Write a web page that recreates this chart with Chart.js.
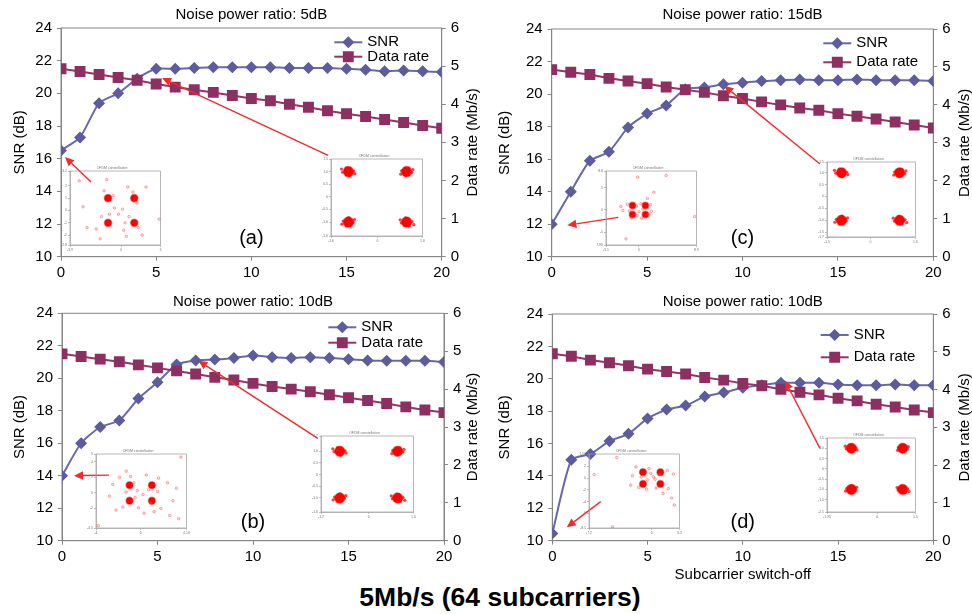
<!DOCTYPE html>
<html>
<head>
<meta charset="utf-8">
<script src="https://cdn.jsdelivr.net/npm/chart.js@4.4.1/dist/chart.umd.min.js"></script>
<style>
  html, body { margin: 0; padding: 0; background: #fff; }
  #fig { position: relative; width: 972px; height: 614px; overflow: hidden; background: #fff; }
  #fig canvas { position: absolute; }
  #caption {
    position: absolute; left: 0; width: 1000px; top: 582px;
    text-align: center; font: bold 26.5px/30px "Liberation Sans", Arial, sans-serif; color: #000;
  }
</style>
</head>
<body>
<div id="fig">
  <div id="caption">5Mb/s (64 subcarriers)</div>
</div>
<script>
  // number of switched-off subcarriers (x axis)
  const switchedOff = [0, 1, 2, 3, 4, 5, 6, 7, 8, 9, 10, 11, 12, 13, 14, 15, 16, 17, 18, 19, 20]

  // (a) noise power ratio 5dB
  const snrA = [16.5, 17.3, 19.4, 20.0, 20.9, 21.5, 21.5, 21.55, 21.6, 21.6, 21.6, 21.6, 21.55, 21.55, 21.55, 21.5, 21.45, 21.35, 21.4, 21.35, 21.3]
  const rateA = [4.93, 4.86, 4.78, 4.70, 4.63, 4.53, 4.45, 4.38, 4.31, 4.23, 4.15, 4.09, 4.00, 3.92, 3.83, 3.75, 3.68, 3.60, 3.52, 3.44, 3.37]
  // (b) noise power ratio 10dB
  const snrB = [14.0, 16.0, 17.0, 17.4, 18.75, 19.75, 20.85, 21.1, 21.15, 21.25, 21.4, 21.3, 21.25, 21.3, 21.25, 21.17, 21.1, 21.08, 21.08, 21.08, 21.0]
  const rateB = [4.93, 4.86, 4.79, 4.72, 4.64, 4.56, 4.48, 4.40, 4.31, 4.24, 4.15, 4.07, 4.00, 3.93, 3.85, 3.77, 3.70, 3.62, 3.53, 3.45, 3.38]
  // (c) noise power ratio 15dB
  const snrC = [12.0, 14.0, 15.9, 16.45, 17.95, 18.8, 19.3, 20.3, 20.4, 20.6, 20.7, 20.8, 20.85, 20.9, 20.85, 20.85, 20.9, 20.85, 20.85, 20.85, 20.8]
  const rateC = [4.93, 4.86, 4.80, 4.70, 4.63, 4.56, 4.47, 4.40, 4.33, 4.24, 4.17, 4.08, 4.00, 3.92, 3.86, 3.77, 3.70, 3.63, 3.55, 3.47, 3.39]
  // (d) noise power ratio 10dB
  const snrD = [10.45, 15.0, 15.35, 16.15, 16.6, 17.55, 18.1, 18.35, 18.9, 19.15, 19.45, 19.6, 19.75, 19.75, 19.75, 19.65, 19.6, 19.6, 19.65, 19.6, 19.6]
  const rateD = [4.95, 4.88, 4.78, 4.71, 4.63, 4.54, 4.48, 4.41, 4.32, 4.25, 4.16, 4.10, 4.01, 3.93, 3.86, 3.77, 3.70, 3.61, 3.54, 3.46, 3.39]

  // constellation insets (I/Q)
  const qpskPoints = [[-1, 1], [1, 1], [-1, -1], [1, -1]]
  const outliersA = [[-3.2, 2.4], [-2.9, 0.3], [-1.1, 2.5], [-1.3, 1.6], [0.5, 1.9], [0.9, 1.5], [1.9, 1.9], [-0.5, 0.2], [0.1, 0.1], [-0.2, -0.3], [0.6, -0.5], [-2.6, -1.4], [-1.9, -1.5], [-1.6, -2.3], [0.2, -1.6], [0.4, -2.1], [1.3, -1.4], [1.6, -2.0], [2.9, -0.7], [-0.9, -0.3], [1.2, 0.6], [-0.6, 1.2], [0.3, -1.0], [-1.5, -0.5]]
  const outliersB = [[-3.8, -4.2], [-2.5, 1.1], [-1.9, 2.0], [-1.3, 2.8], [-0.9, 2.1], [0.5, 2.3], [1.6, 1.9], [2.4, 1.3], [3.6, 4.6], [3.2, 0.6], [-0.3, 0.3], [0.2, -0.2], [-0.5, -0.6], [0.7, 0.4], [-1.6, -1.8], [-2.2, -2.2], [-0.2, -1.9], [0.3, -2.6], [1.2, -2.4], [1.8, -2.0], [2.6, -2.9], [3.4, -3.3], [-1.3, 0.1], [1.5, 0.2], [-0.6, 1.3], [0.9, -1.3], [-2.8, -0.4], [2.9, -1.0]]
  const outliersC = [[-0.2, 7.4], [4.2, 7.8], [2.3, 4.0], [1.3, 2.6], [-1.8, 1.3], [-0.4, 0.9], [0.3, 1.4], [1.8, 1.2], [-1.5, -0.2], [0.0, -0.4], [0.6, 0.2], [1.9, -0.3], [-2.5, -0.1], [-1.2, -1.8], [0.4, -1.8], [-0.3, -1.2], [8.6, -1.5], [-2.0, -6.5], [-2.8, 0.8], [1.5, -1.0]]
  const outliersD = [[-4.0, 3.5], [-6.6, 0.6], [-1.8, 1.9], [-2.2, 0.4], [-0.3, 1.6], [0.2, 0.2], [-0.5, -0.3], [0.4, -0.2], [1.8, 1.3], [2.5, 0.7], [-1.5, -1.6], [-0.6, -1.9], [0.5, -1.7], [1.3, -2.6], [2.3, -3.4], [2.6, -4.6], [-2.4, -1.2], [1.9, -1.8], [-4.5, -8.3], [-0.1, 0.8], [-1.2, 0.2], [0.9, 0.6]]
  const spreadRight = [
    [1.1, 1.06], [0.9, 0.94], [1.06, 0.88], [0.93, 1.1], [1.18, 0.97], [0.83, 1.03], [1.08, 1.14], [0.98, 0.84], [1.22, 1.08], [0.8, 0.9],
    [-1.1, 1.04], [-0.9, 0.95], [-1.05, 0.86], [-0.94, 1.12], [-1.2, 0.98], [-0.82, 1.02], [-1.08, 1.15], [-0.97, 0.83], [-1.24, 1.1], [-0.78, 0.92],
    [-1.12, -1.05], [-0.88, -0.95], [-1.04, -0.86], [-0.95, -1.13], [-1.18, -0.96], [-0.84, -1.02], [-1.07, -1.16], [-0.99, -0.82], [-1.23, -1.08], [-0.79, -0.9],
    [1.12, -1.04], [0.89, -0.96], [1.05, -0.87], [0.94, -1.12], [1.19, -0.98], [0.82, -1.03], [1.09, -1.15], [0.97, -0.83], [1.25, -1.1], [0.78, -0.91]
  ]

  const FONT = '"Liberation Sans", Arial, sans-serif'
  const SNR_LINE = '#6868AC'
  const SNR_MARK = '#5C5C9E'
  const RATE_LINE = '#993366'
  const RATE_MARK = '#8E2F62'
  const AXIS = '#868686'
  const ARROW = '#F22A2A'

  Chart.defaults.font.family = FONT
  Chart.defaults.color = '#000'

  const fig = document.getElementById('fig')

  function addCanvas (left, top, w, h) {
    const c = document.createElement('canvas')
    c.width = w
    c.height = h
    c.style.left = left + 'px'
    c.style.top = top + 'px'
    c.style.width = w + 'px'
    c.style.height = h + 'px'
    fig.appendChild(c)
    return c
  }

  const pts = (xs, ys) => xs.map((x, i) => ({ x, y: ys[i] }))

  // frame, arrows, right axis title, in-plot legend and panel tag
  function decorations (p) {
    return {
      id: 'deco',
      beforeDatasetsDraw (chart) {
        const { ctx, chartArea: a } = chart
        ctx.save()
        ctx.strokeStyle = AXIS
        ctx.lineWidth = 1
        ctx.strokeRect(a.left, a.top, a.right - a.left, a.bottom - a.top)
        ctx.restore()
      },
      afterDatasetsDraw (chart) {
        const { ctx, chartArea: a } = chart
        const xs = chart.scales.x
        const ys = chart.scales.y
        ctx.save()
        // arrows
        ctx.strokeStyle = ARROW
        ctx.fillStyle = ARROW
        ctx.lineWidth = 1.4
        p.arrows.forEach(ar => {
          const x0 = xs.getPixelForValue(ar.from[0])
          const y0 = ys.getPixelForValue(ar.from[1])
          const x1 = xs.getPixelForValue(ar.to[0])
          const y1 = ys.getPixelForValue(ar.to[1])
          const ang = Math.atan2(y1 - y0, x1 - x0)
          const hl = 9
          const hw = 4.2
          const bx = x1 - hl * Math.cos(ang)
          const by = y1 - hl * Math.sin(ang)
          ctx.beginPath()
          ctx.moveTo(x0, y0)
          ctx.lineTo(bx, by)
          ctx.stroke()
          ctx.beginPath()
          ctx.moveTo(x1, y1)
          ctx.lineTo(bx - hw * Math.sin(ang), by + hw * Math.cos(ang))
          ctx.lineTo(bx + hw * Math.sin(ang), by - hw * Math.cos(ang))
          ctx.closePath()
          ctx.fill()
        })
        // panel tag
        ctx.fillStyle = '#000'
        ctx.font = '20px ' + FONT
        ctx.textAlign = 'center'
        ctx.textBaseline = 'middle'
        ctx.fillText(p.tag, xs.getPixelForValue(10), ys.getPixelForValue(11.1))
        // right axis title, reading bottom to top
        ctx.save()
        ctx.font = '15px ' + FONT
        ctx.translate(p.y1TitleX, (a.top + a.bottom) / 2)
        ctx.rotate(-Math.PI / 2)
        ctx.fillText('Data rate (Mb/s)', 0, 0)
        ctx.restore()
        // legend
        const lx = a.right - p.legend.dx
        chart.data.datasets.forEach((ds, i) => {
          const y = a.top + p.legend.ys[i]
          ctx.strokeStyle = ds.borderColor
          ctx.lineWidth = 2
          ctx.beginPath()
          ctx.moveTo(lx, y)
          ctx.lineTo(lx + 28, y)
          ctx.stroke()
          ctx.fillStyle = ds.pointBackgroundColor
          ctx.strokeStyle = ds.pointBorderColor
          Chart.helpers.drawPoint(ctx, { pointStyle: ds.pointStyle, radius: ds.pointRadius, borderWidth: 1, rotation: 0 }, lx + 14, y)
          ctx.fillStyle = '#000'
          ctx.font = '15px ' + FONT
          ctx.textAlign = 'left'
          ctx.fillText(ds.label, lx + 33, y)
        })
        ctx.restore()
      }
    }
  }

  function mainChart (p) {
    const el = addCanvas(p.left, p.top, p.w, p.h)
    return new Chart(el, {
      type: 'line',
      data: {
        datasets: [
          {
            label: 'SNR',
            data: pts(switchedOff, p.snr),
            yAxisID: 'y',
            borderColor: SNR_LINE,
            backgroundColor: SNR_MARK,
            pointBackgroundColor: SNR_MARK,
            pointBorderColor: SNR_MARK,
            pointStyle: 'rectRot',
            pointRadius: 4.6,
            borderWidth: 2,
            tension: 0.2,
            order: 2
          },
          {
            label: 'Data rate',
            data: pts(switchedOff, p.rate),
            yAxisID: 'y1',
            borderColor: RATE_LINE,
            backgroundColor: RATE_MARK,
            pointBackgroundColor: RATE_MARK,
            pointBorderColor: RATE_MARK,
            pointStyle: 'rect',
            pointRadius: 6.3,
            borderWidth: 2,
            tension: 0,
            order: 1
          }
        ]
      },
      options: {
        responsive: false,
        animation: false,
        events: [],
        layout: { padding: 0 },
        scales: {
          x: {
            type: 'linear',
            min: 0,
            max: 20,
            ticks: { stepSize: 5, font: { size: 15 }, padding: 3, color: '#000' },
            grid: { drawOnChartArea: false, tickLength: 4, color: AXIS },
            border: { color: AXIS },
            title: p.xTitle
              ? { display: true, text: p.xTitle, font: { size: 15 }, color: '#000', padding: { bottom: 30 } }
              : { display: false },
            afterFit: s => { s.height = p.xH }
          },
          y: {
            position: 'left',
            min: 10,
            max: 24,
            ticks: { stepSize: 2, font: { size: 15 }, padding: 5, color: '#000' },
            grid: { drawOnChartArea: false, tickLength: 4, color: AXIS },
            border: { color: AXIS },
            title: { display: true, text: 'SNR (dB)', font: { size: 15 }, color: '#000', padding: { top: p.yTitlePad } },
            afterFit: s => { s.width = p.yW }
          },
          y1: {
            position: 'right',
            min: 0,
            max: 6,
            ticks: { stepSize: 1, font: { size: 15 }, padding: 5, color: '#000' },
            grid: { drawOnChartArea: false, tickLength: 4, color: AXIS },
            border: { color: AXIS },
            title: { display: false },
            afterFit: s => { s.width = p.y1W }
          }
        },
        plugins: {
          legend: { display: false },
          tooltip: { enabled: false },
          title: {
            display: true,
            text: p.title,
            fullSize: false,
            color: '#000',
            font: { size: 15, weight: 'normal' },
            padding: p.titlePad
          }
        }
      },
      plugins: [decorations(p)]
    })
  }

  function insetChart (box, rng, outliers, spread, clusterR) {
    const mL = 9, mT = 7, mR = 3, mB = 8
    const el = addCanvas(box.x - mL, box.y - mT, box.w + mL + mR, box.h + mT + mB)
    const xy = arr => arr.map(v => ({ x: v[0], y: v[1] }))
    const datasets = [{
      data: xy(outliers),
      pointStyle: 'circle',
      pointRadius: 1.3,
      borderWidth: 0.6,
      pointBorderColor: 'rgba(255,40,40,0.6)',
      pointBackgroundColor: 'rgba(255,120,120,0.25)'
    }]
    if (spread) {
      datasets.push({
        data: xy(spread),
        pointRadius: 1.6,
        borderWidth: 0,
        pointBackgroundColor: 'rgba(255,0,0,0.75)'
      })
    }
    datasets.push({
      data: xy(qpskPoints),
      pointRadius: clusterR,
      borderWidth: 1.5,
      pointBorderColor: 'rgba(255,0,0,0.45)',
      pointBackgroundColor: 'rgb(255,0,0)'
    })
    const axisCommon = {
      grid: { drawOnChartArea: false, tickLength: 2, color: '#999', lineWidth: 0.6 },
      border: { color: '#999', width: 0.6 },
      ticks: { font: { size: 3.5 }, color: '#777', padding: 1, maxTicksLimit: 9, autoSkip: false }
    }
    return new Chart(el, {
      type: 'scatter',
      data: { datasets },
      options: {
        responsive: false,
        animation: false,
        events: [],
        layout: { padding: { right: mR } },
        scales: {
          x: Object.assign({ min: rng.x[0], max: rng.x[1], afterFit: s => { s.height = mB } }, axisCommon),
          y: Object.assign({ min: rng.y[0], max: rng.y[1], afterFit: s => { s.width = mL } }, axisCommon)
        },
        plugins: {
          legend: { display: false },
          tooltip: { enabled: false },
          title: { display: true, text: 'OFDM constellation', color: '#777', font: { size: 3.5, weight: 'normal' }, padding: { top: 1.8, bottom: 1 } }
        }
      },
      plugins: [{
        id: 'insetFrame',
        beforeDatasetsDraw (chart) {
          const { ctx, chartArea: a } = chart
          ctx.save()
          ctx.strokeStyle = '#999'
          ctx.lineWidth = 0.7
          ctx.strokeRect(a.left, a.top, a.right - a.left, a.bottom - a.top)
          ctx.restore()
        }
      }]
    })
  }

  mainChart({
    left: 0, top: 0, w: 486, h: 290, yW: 61, y1W: 44.3, xH: 33.3,
    yTitlePad: 11, y1TitleX: 473, titlePad: { top: 6, bottom: 4 },
    title: 'Noise power ratio: 5dB', tag: '(a)', snr: snrA, rate: rateA,
    legend: { dx: 107.4, ys: [14.3, 28.7] },
    arrows: [{ from: [1.58, 14.57], to: [0.21, 16.1] }, { from: [14.03, 16.2], to: [5.31, 20.94] }]
  })
  mainChart({
    left: 0, top: 290, w: 486, h: 290, yW: 62, y1W: 42, xH: 39.3,
    yTitlePad: 11, y1TitleX: 473.3, titlePad: { top: 2.7, bottom: 2.6 },
    title: 'Noise power ratio: 10dB', tag: '(b)', snr: snrB, rate: rateB,
    legend: { dx: 115.7, ys: [14, 29.4] },
    arrows: [{ from: [2.46, 14.04], to: [0.63, 14.0] }, { from: [13.39, 16.3], to: [7.14, 21.08] }]
  })
  mainChart({
    left: 486, top: 0, w: 486, h: 290, yW: 65.7, y1W: 38.7, xH: 33.3,
    yTitlePad: 10, y1TitleX: 479, titlePad: { top: 6, bottom: 5 },
    title: 'Noise power ratio: 15dB', tag: '(c)', snr: snrC, rate: rateC,
    legend: { dx: 110, ys: [14.3, 33.3] },
    arrows: [{ from: [3.49, 12.42], to: [0.82, 11.93] }, { from: [14.06, 15.7], to: [9.05, 20.5] }]
  })
  mainChart({
    left: 486, top: 290, w: 486, h: 324, yW: 66.3, y1W: 38.7, xH: 73.3,
    yTitlePad: 10, y1TitleX: 479, titlePad: { top: 2.7, bottom: 3.3 },
    title: 'Noise power ratio: 10dB', tag: '(d)', snr: snrD, rate: rateD,
    xTitle: 'Subcarrier switch-off',
    legend: { dx: 112.6, ys: [21, 43.3] },
    arrows: [{ from: [2.54, 12.41], to: [0.76, 10.83] }, { from: [14.05, 15.7], to: [12.22, 19.88] }]
  })

  insetChart({ x: 70, y: 171, w: 93, h: 74 }, { x: [-3.9, 3.0], y: [-2.8, 3.2] }, outliersA, null, 3.6)
  insetChart({ x: 331, y: 159, w: 95, h: 77 }, { x: [-1.6, 1.55], y: [-1.55, 1.5] }, [], spreadRight, 5)
  insetChart({ x: 96, y: 454, w: 93, h: 74 }, { x: [-4.0, 4.1], y: [-4.5, 5.0] }, outliersB, null, 3.4)
  insetChart({ x: 321, y: 436, w: 96, h: 76 }, { x: [-1.65, 1.55], y: [-1.6, 1.65] }, [], spreadRight, 5)
  insetChart({ x: 606, y: 171, w: 93, h: 74 }, { x: [-5.1, 8.9], y: [-7.9, 8.8] }, outliersC, null, 3.2)
  insetChart({ x: 827, y: 162, w: 92, h: 75 }, { x: [-1.5, 1.55], y: [-1.7, 1.45] }, [], spreadRight, 5)
  insetChart({ x: 589, y: 454, w: 93, h: 74 }, { x: [-7.2, 3.2], y: [-8.5, 4.1] }, outliersD, null, 3.4)
  insetChart({ x: 827, y: 438, w: 92, h: 74 }, { x: [-1.95, 1.5], y: [-2.1, 1.5] }, [], spreadRight, 5)
</script>
</body>
</html>
